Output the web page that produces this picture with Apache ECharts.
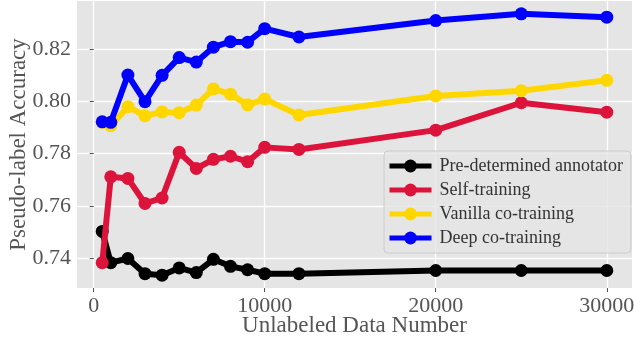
<!DOCTYPE html>
<html><head><meta charset="utf-8">
<script src="https://cdn.jsdelivr.net/npm/echarts@6/dist/echarts.min.js"></script>
<style>html,body{margin:0;padding:0;background:#fff}#c{width:634px;height:338px}</style>
</head><body><div id="c"></div>
<script>
const xValues = [500,1000,2000,3000,4000,5000,6000,7000,8000,9000,10000,12000,20000,25000,30000];
const predetermined = [0.7502,0.7382,0.7398,0.7340,0.7334,0.7362,0.7344,0.7395,0.7368,0.7355,0.7340,0.7340,0.7352,0.7352,0.7352];
const selfTraining = [0.7382,0.7711,0.7705,0.7609,0.7630,0.7805,0.7743,0.7778,0.7790,0.7769,0.7824,0.7816,0.7890,0.7995,0.7959];
const vanillaCo = [0.7920,0.7907,0.7980,0.7945,0.7960,0.7957,0.7986,0.8048,0.8028,0.7987,0.8009,0.7948,0.8021,0.8041,0.8081];
const deepCo = [0.7922,0.7920,0.8101,0.7999,0.8100,0.8168,0.8151,0.8208,0.8229,0.8227,0.8279,0.8247,0.8310,0.8336,0.8323];
const xTicks = [0,10000,20000,30000];
const yTicks = [0.74,0.76,0.78,0.80,0.82];
const seriesNames = ['Pre-determined annotator','Self-training','Vanilla co-training','Deep co-training'];
const seriesColors = ['#000000','#dc143c','#ffd700','#0000ff'];
const seriesData = [predetermined, selfTraining, vanillaCo, deepCo];

const FONT = '"Liberation Serif", "DejaVu Serif", serif';
const chart = echarts.init(document.getElementById('c'), null, {renderer:'canvas'});
chart.setOption({
  animation:false,
  backgroundColor:'#ffffff',
  grid:{left:77, right:2, top:1, bottom:50, show:true, backgroundColor:'#e5e5e5', borderWidth:0, containLabel:false, outerBoundsMode:'none'},
  xAxis:{
    type:'value', min:-975, max:31475,
    name:'Unlabeled Data Number', nameLocation:'middle', nameGap:26, nameMoveOverlap:false,
    nameTextStyle:{fontFamily:FONT, fontSize:23, color:'#555555'},
    axisLine:{show:false},
    axisTick:{show:true, length:4, lineStyle:{color:'#555555', width:1}, customValues:xTicks},
    axisLabel:{fontFamily:FONT, fontSize:22, color:'#555555', margin:7, customValues:xTicks, formatter:v=>String(v)},
    splitLine:{show:true, lineStyle:{color:'#ffffff', width:1.3}}
  },
  yAxis:{
    type:'value', min:0.7285, max:0.8385,
    name:'Pseudo-label Accuracy', nameLocation:'middle', nameGap:47, nameRotate:90, nameMoveOverlap:false,
    nameTextStyle:{fontFamily:FONT, fontSize:23, color:'#555555'},
    axisLine:{show:false},
    axisTick:{show:true, length:4, lineStyle:{color:'#555555', width:1}, customValues:yTicks},
    axisLabel:{fontFamily:FONT, fontSize:22, color:'#555555', margin:6, customValues:yTicks, formatter:v=>v.toFixed(2)},
    splitLine:{show:true, lineStyle:{color:'#ffffff', width:1.3}}
  },
  legend:{
    orient:'vertical', left:384, top:151,
    backgroundColor:'rgba(229,229,229,0.8)', borderColor:'#cccccc', borderWidth:1, borderRadius:4,
    padding:[6,8,6,3], itemGap:6, itemWidth:42, itemHeight:16,
    lineStyle:{width:5},
    textStyle:{fontFamily:FONT, fontSize:18, color:'#333333', lineHeight:18, padding:[0,0,0,3]},
    data:seriesNames
  },
  series: seriesNames.map((n,i)=>({
    name:n, type:'line',
    data: xValues.map((x,j)=>[x, seriesData[i][j]]),
    symbol:'circle', symbolSize:13,
    lineStyle:{color:seriesColors[i], width:6},
    itemStyle:{color:seriesColors[i]},
    z:2+i
  }))
});
</script></body></html>
